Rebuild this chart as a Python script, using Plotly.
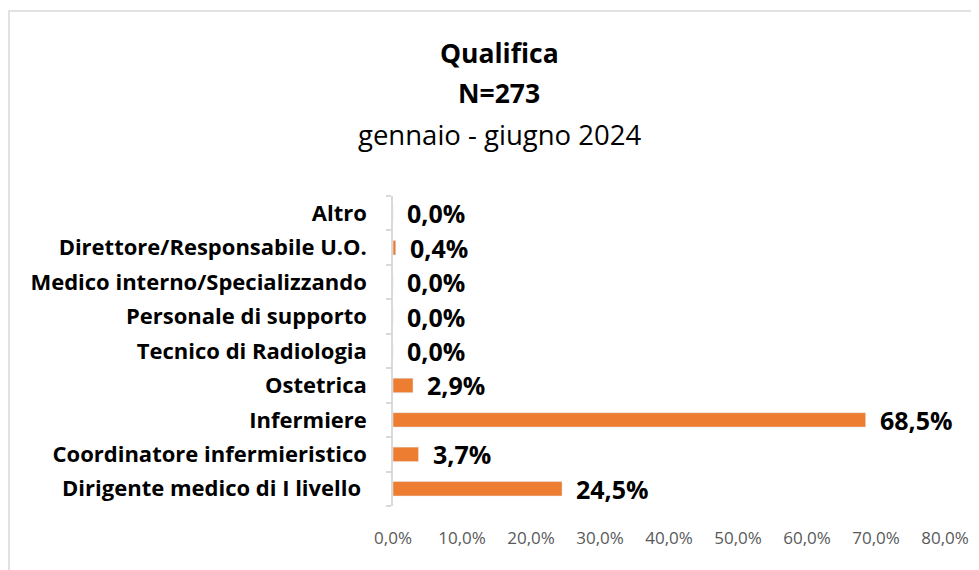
import plotly.graph_objects as go

categories = ["Dirigente medico di I livello ", "Coordinatore infermieristico", "Infermiere",
              "Ostetrica", "Tecnico di Radiologia", "Personale di supporto",
              "Medico interno/Specializzando", "Direttore/Responsabile U.O.", "Altro"]
values = [24.5, 3.7, 68.5, 2.9, 0.0, 0.0, 0.0, 0.4, 0.0]
tick_vals = [0, 10, 20, 30, 40, 50, 60, 70, 80]
tick_text = ["0,0%", "10,0%", "20,0%", "30,0%", "40,0%", "50,0%", "60,0%", "70,0%", "80,0%"]
title_lines = ["<b>Qualifica</b>", "<b>N=273</b>", "gennaio - giugno 2024"]

FONT = "Open Sans"
OFF = 8  # page body margin
W, H = 979 - OFF, 570 - OFF
ML, MR, MT, MB = 393 - OFF, 34, 196 - OFF, 64

fig = go.Figure(go.Bar(
    x=values, y=categories, orientation="h",
    marker=dict(color="#ED7D31"), width=0.42,
))

annotations = []
for c, v in zip(categories, values):
    annotations.append(dict(
        x=v, y=c, xref="x", yref="y", text="<b>%s%%</b>" % ("%.1f" % v).replace(".", ","),
        showarrow=False, xanchor="left", yanchor="middle", xshift=12,
        font=dict(family=FONT, size=25, color="#000000"),
    ))

plot_h = H - MT - MB
plot_w = W - ML - MR
for py, txt, sz in zip([53, 93, 134], title_lines, [26.5, 26.5, 27.5]):
    annotations.append(dict(
        x=(499 - OFF - ML) / plot_w, y=(H - MB - (py - OFF)) / plot_h, xref="paper", yref="paper",
        text=txt, showarrow=False, xanchor="center", yanchor="middle",
        font=dict(family=FONT, size=sz, color="#000000"),
    ))

fig.update_layout(
    width=W, height=H,
    margin=dict(l=ML, r=MR, t=MT, b=MB, autoexpand=False),
    paper_bgcolor="white", plot_bgcolor="white",
    showlegend=False,
    annotations=annotations,
    shapes=[dict(type="rect", xref="paper", yref="paper",
                 x0=(1 - ML) / plot_w, x1=(W + 20 - ML) / plot_w,
                 y0=(H - MB - (H + 20)) / plot_h, y1=(H - MB - 3) / plot_h,
                 line=dict(color="#D9D9D9", width=1.5), fillcolor="rgba(0,0,0,0)", layer="below")],
    xaxis=dict(range=[0, 80], tickvals=tick_vals, ticktext=tick_text,
               showgrid=False, zeroline=False, showline=False, ticks="",
               ticklabelstandoff=20,
               tickfont=dict(family=FONT, size=17, color="#595959")),
    yaxis=dict(range=[-0.5, 8.5], showgrid=False, zeroline=False,
               showline=True, linecolor="#D9D9D9", linewidth=1.5,
               ticks="outside", tickson="boundaries", ticklen=5, tickcolor="#D9D9D9", tickwidth=1.5,
               ticklabelstandoff=20,
               tickfont=dict(family=FONT, size=22, color="#000000", weight="bold")),
)

fig.write_html("out.html")
